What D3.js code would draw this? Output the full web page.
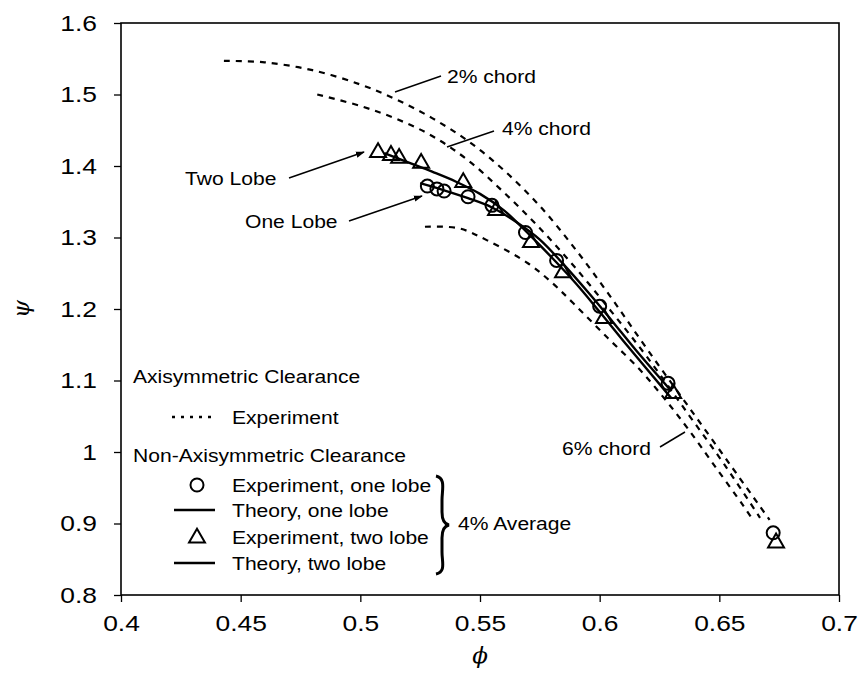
<!DOCTYPE html>
<html>
<head>
<meta charset="utf-8">
<script src="https://cdn.jsdelivr.net/npm/d3@7"></script>
<style>
  body { margin: 0; background: #fff; }
  svg { font-family: "Liberation Sans", Arial, sans-serif; }
</style>
</head>
<body>
<div id="chart"></div>
<script>
// axis ticks
const xTicks = [0.4, 0.45, 0.5, 0.55, 0.6, 0.65, 0.7];
const yTicks = [0.8, 0.9, 1.0, 1.1, 1.2, 1.3, 1.4, 1.5, 1.6];

// axisymmetric clearance, experiment (dashed curves)
const chord2Phi = [0.443, 0.46, 0.48, 0.50, 0.515, 0.53, 0.545, 0.56, 0.575, 0.59, 0.605, 0.62, 0.637, 0.655, 0.671];
const chord2Psi = [1.547, 1.545, 1.534, 1.514, 1.493, 1.467, 1.435, 1.394, 1.344, 1.283, 1.215, 1.143, 1.064, 0.980, 0.905];
const chord4Phi = [0.482, 0.50, 0.515, 0.53, 0.545, 0.56, 0.575, 0.59, 0.605, 0.62, 0.637, 0.652, 0.667];
const chord4Psi = [1.500, 1.484, 1.466, 1.442, 1.408, 1.363, 1.313, 1.257, 1.196, 1.132, 1.053, 0.983, 0.908];
const chord6Phi = [0.527, 0.541, 0.553, 0.57, 0.58, 0.589, 0.6035, 0.616, 0.627, 0.637, 0.6486, 0.66, 0.664];
const chord6Psi = [1.315, 1.313, 1.296, 1.264, 1.237, 1.208, 1.159, 1.118, 1.075, 1.032, 0.978, 0.925, 0.905];

// non-axisymmetric, experiment one lobe (circles)
const oneLobePhi = [0.528, 0.532, 0.535, 0.545, 0.555, 0.569, 0.582, 0.600, 0.6286, 0.6725];
const oneLobePsi = [1.372, 1.368, 1.365, 1.357, 1.345, 1.307, 1.268, 1.204, 1.096, 0.887];
// experiment two lobe (triangles)
const twoLobePhi = [0.5074, 0.5128, 0.5162, 0.5254, 0.543, 0.5567, 0.5713, 0.5847, 0.6018, 0.6307, 0.6737];
const twoLobePsi = [1.419, 1.415, 1.411, 1.404, 1.377, 1.338, 1.293, 1.251, 1.187, 1.082, 0.873];

// theory lines
const theoryOnePhi = [0.525, 0.535, 0.545, 0.555, 0.565, 0.575, 0.585, 0.595, 0.605, 0.615, 0.63];
const theoryOnePsi = [1.376, 1.366, 1.355, 1.342, 1.322, 1.297, 1.262, 1.224, 1.184, 1.143, 1.085];
const theoryTwoPhi = [0.51, 0.52, 0.53, 0.54, 0.55, 0.56, 0.57, 0.58, 0.59, 0.60, 0.61, 0.63];
const theoryTwoPsi = [1.418, 1.405, 1.392, 1.378, 1.361, 1.338, 1.306, 1.272, 1.236, 1.196, 1.155, 1.075];

const W = 866, H = 675;
const m = {left: 121, right: 27, top: 23, bottom: 80};
const SX = 1.14; // the scanned lettering is a bit wide

const svg = d3.select("#chart").append("svg")
    .attr("width", W)
    .attr("height", H);
svg.append("rect").attr("width", W).attr("height", H).attr("fill", "#fff");

const x = d3.scaleLinear().domain([0.4, 0.7]).range([m.left, W - m.right]);
const y = d3.scaleLinear().domain([0.8, 1.6]).range([H - m.bottom, m.top]);

// frame
svg.append("rect")
    .attr("x", x(0.4)).attr("y", y(1.6))
    .attr("width", x(0.7) - x(0.4)).attr("height", y(0.8) - y(1.6))
    .attr("fill", "none").attr("stroke", "#000").attr("stroke-width", 1.6);

// axes
const fmt = d => d3.format("")(+d.toFixed(2));
const xAxis = svg.append("g")
    .attr("transform", "translate(0," + y(0.8) + ")")
    .call(d3.axisBottom(x).tickValues(xTicks).tickFormat(fmt).tickSize(7).tickPadding(13));
const yAxis = svg.append("g")
    .attr("transform", "translate(" + x(0.4) + ",0)")
    .call(d3.axisLeft(y).tickValues(yTicks).tickFormat(fmt).tickSize(7).tickPadding(17));
[xAxis, yAxis].forEach(g => {
    g.select(".domain").remove();
    g.selectAll("line").attr("stroke", "#000").attr("stroke-width", 1.3);
    g.selectAll("text").attr("font-size", 22).attr("fill", "#000")
        .attr("font-family", "'Liberation Sans', Arial, sans-serif")
        .attr("transform", "scale(1.2,1)");
});
yAxis.selectAll("text").attr("x", -24 / 1.2);

// axis titles
svg.append("text")
    .attr("x", (x(0.4) + x(0.7)) / 2).attr("y", 663)
    .attr("text-anchor", "middle").attr("font-size", 23)
    .attr("font-style", "italic").attr("font-family", "'DejaVu Serif', serif")
    .text("ϕ");
svg.append("text")
    .attr("transform", "translate(29," + (y(1.2)) + ") rotate(-90)")
    .attr("text-anchor", "middle").attr("font-size", 23)
    .attr("font-style", "italic").attr("font-family", "'DejaVu Serif', serif")
    .text("ψ");

const line = d3.line().x(d => x(d[0])).y(d => y(d[1])).curve(d3.curveCatmullRom);
const zip = (a, b) => a.map((v, i) => [v, b[i]]);

// dashed axisymmetric curves
[[chord2Phi, chord2Psi], [chord4Phi, chord4Psi], [chord6Phi, chord6Psi]].forEach(c => {
    svg.append("path")
        .datum(zip(c[0], c[1]))
        .attr("d", line)
        .attr("fill", "none").attr("stroke", "#000")
        .attr("stroke-width", 2.2).attr("stroke-dasharray", "6,6");
});

// theory lines
[[theoryOnePhi, theoryOnePsi], [theoryTwoPhi, theoryTwoPsi]].forEach(c => {
    svg.append("path")
        .datum(zip(c[0], c[1]))
        .attr("d", line)
        .attr("fill", "none").attr("stroke", "#000").attr("stroke-width", 2.4);
});

// markers
const tri = d3.symbol().type(d3.symbolTriangle).size(110);
svg.append("g").selectAll("circle")
    .data(zip(oneLobePhi, oneLobePsi))
    .join("circle")
    .attr("cx", d => x(d[0])).attr("cy", d => y(d[1])).attr("r", 6.5)
    .attr("fill", "none").attr("stroke", "#000").attr("stroke-width", 2);
svg.append("g").selectAll("path")
    .data(zip(twoLobePhi, twoLobePsi))
    .join("path")
    .attr("d", tri)
    .attr("transform", d => "translate(" + x(d[0]) + "," + y(d[1]) + ")")
    .attr("fill", "none").attr("stroke", "#000").attr("stroke-width", 2);

// annotations
const txt = (tx, ty, s) => svg.append("text")
    .attr("transform", "translate(" + tx + "," + ty + ") scale(" + SX + ",1)")
    .attr("font-size", 18.5).attr("fill", "#000").text(s);
const seg = (x1, y1, x2, y2, w) => svg.append("line")
    .attr("x1", x1).attr("y1", y1).attr("x2", x2).attr("y2", y2)
    .attr("stroke", "#000").attr("stroke-width", w || 1.5);

svg.append("defs").append("marker")
    .attr("id", "ah").attr("viewBox", "0 0 10 10")
    .attr("refX", 9).attr("refY", 5)
    .attr("markerWidth", 9).attr("markerHeight", 9)
    .attr("orient", "auto").attr("markerUnits", "userSpaceOnUse")
    .append("path").attr("d", "M0,1.5L10,5L0,8.5Z").attr("fill", "#000");

txt(447, 83, "2% chord");
seg(441, 76, 395, 92);
txt(502, 135, "4% chord");
seg(494, 131, 447, 147);
txt(562, 455, "6% chord");
seg(660, 447, 685, 432);

txt(185, 185, "Two Lobe");
seg(289, 178, 364, 152).attr("marker-end", "url(#ah)");
txt(245, 228, "One Lobe");
seg(349, 221, 422, 196).attr("marker-end", "url(#ah)");

// legend
txt(133, 383, "Axisymmetric Clearance");
seg(172, 417, 217, 417, 2.4).attr("stroke-dasharray", "3,6");
txt(232, 424, "Experiment");
txt(133, 462, "Non-Axisymmetric Clearance");
svg.append("circle").attr("cx", 197).attr("cy", 485).attr("r", 6.5)
    .attr("fill", "none").attr("stroke", "#000").attr("stroke-width", 2);
txt(232, 492, "Experiment, one lobe");
seg(174, 510, 215, 510, 2.4);
txt(232, 517, "Theory, one lobe");
svg.append("path").attr("d", tri).attr("transform", "translate(197,538)")
    .attr("fill", "none").attr("stroke", "#000").attr("stroke-width", 2);
txt(232, 544, "Experiment, two lobe");
seg(174, 563, 215, 563, 2.4);
txt(232, 570, "Theory, two lobe");

// brace
svg.append("path")
    .attr("d", "M436,476 C446,478 442,490 442,500 L442,512 C442,520 444,524 449,525 C444,526 442,530 442,538 L442,552 C442,562 446,572 436,574")
    .attr("fill", "none").attr("stroke", "#000").attr("stroke-width", 3);
txt(458, 530, "4% Average");
</script>
</body>
</html>
